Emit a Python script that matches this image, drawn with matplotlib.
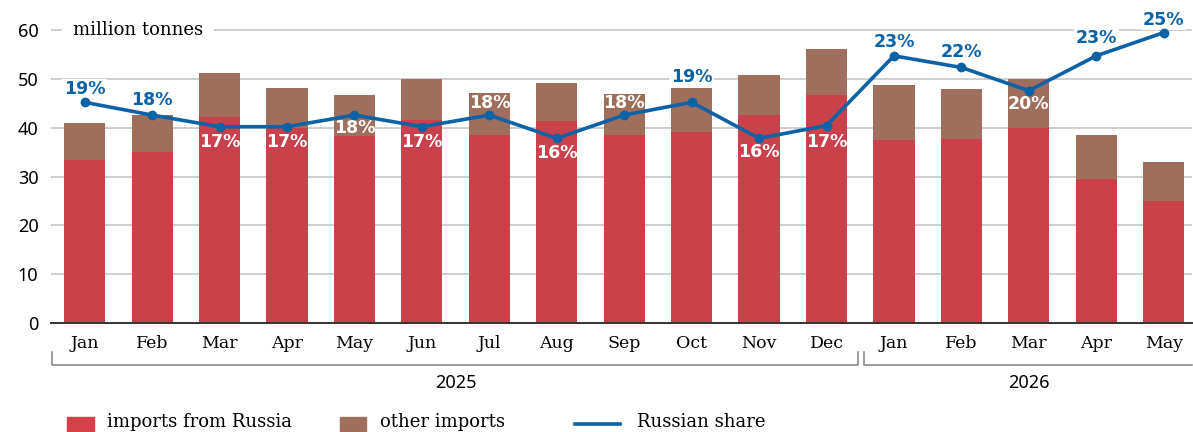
import matplotlib.pyplot as plt
import numpy as np
from matplotlib.patches import Rectangle
from matplotlib.lines import Line2D

months = ["Jan", "Feb", "Mar", "Apr", "May", "Jun", "Jul", "Aug", "Sep", "Oct", "Nov", "Dec",
          "Jan", "Feb", "Mar", "Apr", "May"]
russia = [33.4, 35.0, 42.2, 40.0, 38.3, 41.6, 38.5, 41.4, 38.5, 39.1, 42.6, 46.7,
          37.5, 37.7, 40.0, 29.5, 25.0]
other = [7.6, 7.6, 9.0, 8.2, 8.4, 8.4, 8.6, 7.8, 8.4, 9.3, 8.2, 9.4,
         11.3, 10.3, 10.0, 9.0, 8.0]
share = [19.0, 17.9, 16.9, 16.9, 17.9, 16.9, 17.9, 15.9, 17.9, 19.0, 15.9, 17.0,
         23.0, 22.0, 20.0, 23.0, 25.0]
years = ["2025", "2026"]

# label placement for the share values: pixel offset from the point, and colour
label_dy = [13, 15, -15, -15, -13, -15, 12, -15, 12, 25, -14, -16,
            14, 15, -13, 18, 13]
label_white = [False, False, True, True, True, True, True, True, True, False, True, True,
               False, False, True, False, False]

red = "#C9414B"
brown = "#A06E5D"
blue = "#0B62A4"
sans = "Noto Sans"
serif = "DejaVu Serif"

fig = plt.figure(figsize=(11.93, 4.32), dpi=100)
ax = fig.add_axes([51 / 1193, 1 - 323 / 432, (1192 - 51) / 1193, (323 - 20.4) / 432])

x = np.arange(len(months))
ax.bar(x, russia, width=0.61, color=red, zorder=2)
ax.bar(x, other, bottom=russia, width=0.61, color=brown, zorder=2)

ax.set_xlim(-0.5, 16.42)
ax.set_ylim(0, 62)
ax.set_yticks(range(0, 61, 10))
ax.yaxis.grid(True, color="#C6C6C6", linewidth=1.2, zorder=0)
ax.set_axisbelow(True)
for s in ["left", "right", "top"]:
    ax.spines[s].set_visible(False)
ax.spines["bottom"].set_color("#333333")
ax.spines["bottom"].set_linewidth(1.4)
ax.spines["bottom"].set_zorder(3)
ax.tick_params(axis="y", length=0, pad=9, labelsize=13)
ax.tick_params(axis="x", length=0, pad=9)
for lab in ax.get_yticklabels():
    lab.set_fontfamily(sans)
ax.set_xticks(x)
ax.set_xticklabels(months, fontfamily=serif, fontsize=12.5)

ax.text(0.0193, 60, "million tonnes", transform=ax.get_yaxis_transform(),
        fontfamily=serif, fontsize=13, va="center", ha="left", zorder=4,
        bbox=dict(boxstyle="square,pad=0.6", fc="white", ec="none"))

# share line on its own scale
ax2 = ax.twinx()
ax2.set_ylim(0, 62 / 2.38)
ax2.set_axis_off()
ax2.plot(x, share, color=blue, linewidth=2.6, marker="o", markersize=6, zorder=7)
for xi, s, dy, wh in zip(x, share, label_dy, label_white):
    kw = dict(xytext=(0, dy * 0.72), textcoords="offset points", ha="center", va="center",
              fontfamily="DejaVu Sans", fontweight="bold", fontsize=12.5, zorder=6)
    if wh:
        ax2.annotate("%.0f%%" % s, (xi, s), color="white", **kw)
    else:
        ax2.annotate("%.0f%%" % s, (xi, s), color=blue,
                     bbox=dict(boxstyle="square,pad=0.1", fc="white", ec="none"), **kw)

# year brackets under the month labels
tr = ax.get_xaxis_transform()
y_lo, y_hi = -42 / 302.6, -29 / 302.6
brk = dict(color="#808080", linewidth=1.1, clip_on=False, transform=tr)
ax.plot([-0.48, -0.48, 11.47, 11.47], [y_hi, y_lo, y_lo, y_hi], **brk)
ax.plot([11.55, 11.55, 16.42], [y_hi, y_lo, y_lo], **brk)
ax.text(5.5, -60 / 302.6, years[0], transform=tr, ha="center", va="center",
        fontfamily=sans, fontsize=13)
ax.text(14, -60 / 302.6, years[1], transform=tr, ha="center", va="center",
        fontfamily=sans, fontsize=13)

# legend along the bottom edge
W, H = 1193, 432
fig.patches.append(Rectangle((67 / W, -0.05), 27 / W, 0.05 + 15 / H,
                             transform=fig.transFigure, color="#D6404B"))
fig.text(107 / W, 5 / H, "imports from Russia", fontfamily=serif, fontsize=13, va="baseline")
fig.patches.append(Rectangle((340 / W, -0.05), 26 / W, 0.05 + 15 / H,
                             transform=fig.transFigure, color=brown))
fig.text(380 / W, 5 / H, "other imports", fontfamily=serif, fontsize=13, va="baseline")
fig.lines.append(Line2D([575 / W, 620 / W], [1 - 424 / H, 1 - 424 / H],
                        transform=fig.transFigure, color=blue, linewidth=2.6))
fig.text(637 / W, 5 / H, "Russian share", fontfamily=serif, fontsize=13, va="baseline")

fig.savefig("out.png", dpi=100)
